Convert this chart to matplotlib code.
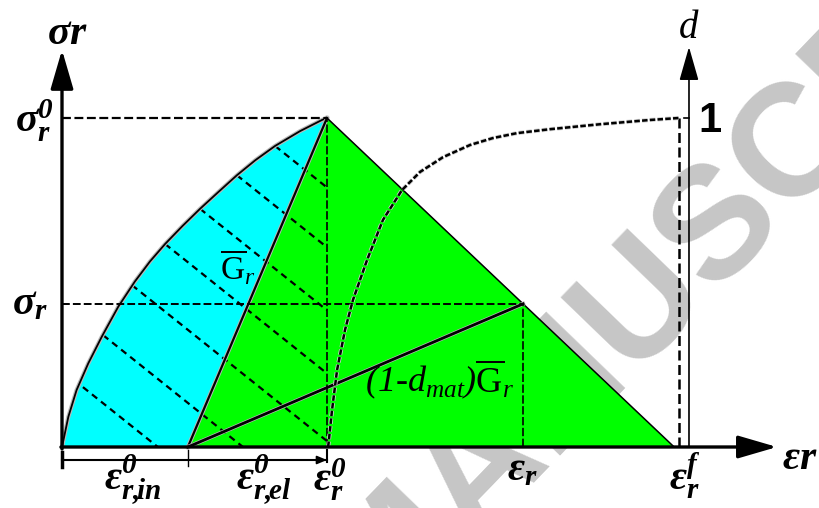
import numpy as np
import matplotlib.pyplot as plt
import matplotlib.patheffects as pe

plt.rcParams['mathtext.fontset'] = 'custom'
plt.rcParams['mathtext.rm'] = 'Liberation Serif:italic'
plt.rcParams['mathtext.it'] = 'Liberation Serif:italic'
plt.rcParams['mathtext.bf'] = 'Liberation Serif:bold:italic'
plt.rcParams['mathtext.sf'] = 'Liberation Serif'

# hardening branch (strain in eps0 units, stress in sigma0 units)
hard_eps = np.array([0.0, 0.024, 0.055, 0.099, 0.150, 0.212, 0.275, 0.332, 0.389,
                     0.455, 0.521, 0.590, 0.660, 0.730, 0.804, 0.898, 0.981, 1.0])
hard_sig = np.array([0.0, 0.092, 0.173, 0.254, 0.335, 0.426, 0.503, 0.564, 0.617,
                     0.672, 0.724, 0.775, 0.826, 0.872, 0.915, 0.960, 0.994, 1.0])

eps_peak, sig_peak = 1.0, 1.0
eps_in = 0.475     # inelastic strain at peak
eps_r = 1.74       # current strain on the softening branch
eps_f = 2.31       # failure strain

# damage curve d(eps), d = 1 drawn at the sigma0 level
dmg_eps = np.array([1.004, 1.006, 1.019, 1.038, 1.068, 1.098, 1.151, 1.211, 1.283,
                    1.351, 1.438, 1.540, 1.626, 1.717, 1.842, 2.030, 2.219, 2.328])
dmg_d = np.array([0.0, 0.012, 0.112, 0.234, 0.356, 0.447, 0.568, 0.690, 0.781,
                  0.836, 0.881, 0.918, 0.939, 0.954, 0.966, 0.981, 0.994, 1.0])

# dashed lines running across the two energy areas
hatch_eps = np.array([0.079, 0.155, 0.264, 0.389, 0.521, 0.660, 0.804])
hatch_sig = np.array([0.182, 0.340, 0.492, 0.617, 0.724, 0.826, 0.915])
hatch_slope = -0.644

d_axis_x = 2.366

sig_r = sig_peak * (eps_f - eps_r) / (eps_f - eps_peak)

fig = plt.figure(figsize=(8.19, 5.08), dpi=100)
ax = fig.add_axes([0, 0, 1, 1])
ax.set_xlim(-62 / 265, (819 - 62) / 265)
ax.set_ylim(-61 / 329, 447 / 329)
ax.axis('off')

# watermark
ax.text(2.475, 0.684, 'MANUSCRIPT', rotation=46, rotation_mode='anchor',
        ha='center', va='center', fontsize=115, family='Liberation Sans',
        weight='bold', color='#c6c6c6', zorder=0)

halo = [pe.withStroke(linewidth=3.0, foreground='#b8b8b8')]

# energy areas
ax.fill(np.append(hard_eps, eps_in), np.append(hard_sig, 0), color='#00ffff', lw=0, zorder=1)
ax.fill([eps_in, eps_peak, eps_f], [0, sig_peak, 0], color='#00ff00', lw=0, zorder=1)

for e0, s0 in zip(hatch_eps, hatch_sig):
    e1 = e0 - s0 / hatch_slope
    s1 = 0.0
    if e1 > eps_peak:
        e1 = eps_peak
        s1 = s0 + hatch_slope * (eps_peak - e0)
    ax.plot([e0, e1], [s0, s1], color='k', lw=1.6, ls=(0, (3, 2.2)), zorder=2)

# curves
ax.plot(hard_eps, hard_sig, color='k', lw=1.3, zorder=3, path_effects=halo)
ax.plot([eps_in, eps_peak], [0, sig_peak], color='k', lw=1.6, zorder=3, path_effects=halo)
ax.plot([eps_peak, eps_f], [sig_peak, 0], color='k', lw=1.1, zorder=3)
ax.plot([eps_in, eps_r], [0, sig_r], color='k', lw=2.0, zorder=3, path_effects=halo)

# guide lines
ax.plot([0, eps_peak], [sig_peak, sig_peak], color='k', lw=1.6, ls=(0, (4, 1.6)), zorder=3)
ax.plot([0, eps_r], [sig_r, sig_r], color='k', lw=1.4, ls=(0, (4, 1.6)), zorder=3)
ax.plot([eps_peak, eps_peak], [0, sig_peak], color='k', lw=1.2, ls=(0, (5, 1.5)), zorder=3)
ax.plot([eps_r, eps_r], [0, sig_r], color='k', lw=1.2, ls=(0, (5, 1.5)), zorder=3)
ax.plot([dmg_eps[-1], dmg_eps[-1]], [0, dmg_d[-1]], color='k', lw=1.8, ls=(0, (4, 1.8)), zorder=3)

# damage curve
ax.plot(dmg_eps, dmg_d, color='k', lw=1.8, ls=(0, (2.2, 0.9)), zorder=4,
        path_effects=[pe.withStroke(linewidth=3.0, foreground='#d0d0d0')])

# axes with arrows
arrow_big = dict(arrowstyle='-|>,head_length=24,head_width=7', mutation_scale=1,
                 lw=2.4, color='k', shrinkA=0, shrinkB=0)
arrow_small = dict(arrowstyle='-|>,head_length=21,head_width=6', mutation_scale=1,
                   lw=1.2, color='k', shrinkA=0, shrinkB=0)
ax.annotate('', xy=(0, 1.207), xytext=(0, -0.006), arrowprops=arrow_big, zorder=5)
ax.annotate('', xy=(2.698, 0), xytext=(-0.004, 0), arrowprops=arrow_big, zorder=5)
ax.annotate('', xy=(d_axis_x, 1.216), xytext=(d_axis_x, 0), arrowprops=arrow_small, zorder=5)
ax.plot([d_axis_x - 0.02, d_axis_x], [1.0, 1.0], color='k', lw=1.2, zorder=5)

# strain decomposition bracket
yb = -0.0395
ax.plot([0, eps_peak], [yb, yb], color='k', lw=1.5, zorder=5)
ax.plot([0, 0], [-0.015, -0.061], color='k', lw=2.5, zorder=5)
ax.plot([eps_in, eps_in], [-0.01, -0.058], color='k', lw=1.0, zorder=5)
ax.plot([eps_peak, eps_peak], [-0.01, -0.045], color='k', lw=1.5, zorder=5)
ax.annotate('', xy=(eps_peak, yb), xytext=(eps_peak - 0.05, yb),
            arrowprops=dict(arrowstyle='-|>,head_length=6,head_width=2.5', mutation_scale=1,
                            lw=1.2, color='k', shrinkA=0, shrinkB=0), zorder=5)

# labels
big = 30
ax.text(0.019, 1.262, r'$\mathbf{\sigma r}$', fontsize=big, ha='center', va='center')
ax.text(-0.105, 0.99, r'$\mathbf{\sigma}_{\mathbf{r}}^{\mathbf{0}}$', fontsize=big, ha='center', va='center')
ax.text(-0.12, 0.44, r'$\mathbf{\sigma}_{\mathbf{r}}$', fontsize=big, ha='center', va='center')
ax.text(0.265, -0.100, r'$\mathbf{\varepsilon}^{\mathbf{0}}_{\mathbf{r}\mathbf{,}\!\mathbf{in}}$',
        fontsize=big, ha='center', va='center')
ax.text(0.76, -0.100, r'$\mathbf{\varepsilon}^{\mathbf{0}}_{\mathbf{r}\mathbf{,}\!\mathbf{el}}$',
        fontsize=big, ha='center', va='center')
ax.text(1.01, -0.100, r'$\mathbf{\varepsilon}^{\mathbf{0}}_{\mathbf{r}}$', fontsize=big, ha='center', va='center')
ax.text(1.736, -0.066, r'$\mathbf{\varepsilon}_{\mathbf{r}}$', fontsize=big, ha='center', va='center')
ax.text(2.35, -0.09, r'$\mathbf{\varepsilon}^{\mathbf{f}}_{\mathbf{r}}$', fontsize=big, ha='center', va='center')
ax.text(2.717, -0.03, r'$\mathbf{\varepsilon r}$', fontsize=big, ha='left', va='center')
ax.text(d_axis_x, 1.277, r'$d$', fontsize=28, ha='center', va='center')
ax.text(2.445, 0.99, '1', fontsize=30, family='Liberation Sans', weight='bold',
        ha='center', va='center')
ax.text(0.664, 0.544, r'$\overline{\mathsf{G}}_r$', fontsize=24, ha='center', va='center', zorder=6)
ax.text(1.426, 0.204, r'$(1\text{-}d_{mat})\overline{\mathsf{G}}_r$', fontsize=26,
        ha='center', va='center', zorder=6)

fig.savefig('out.png', dpi=100)
